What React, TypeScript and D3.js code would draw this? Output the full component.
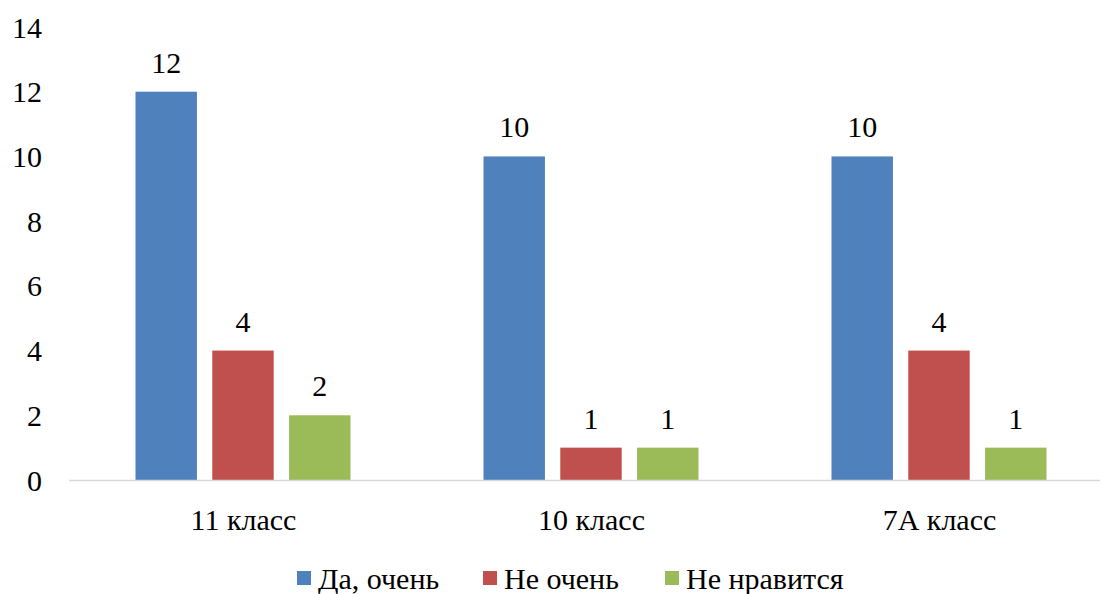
import React from "react";
import * as d3 from "d3";

// chart data
const categories = ["11 класс", "10 класс", "7А класс"];
const seriesNames = ["Да, очень", "Не очень", "Не нравится"];
const seriesColors = ["#4F81BD", "#C0504D", "#9BBB59"];
const daOchen = [12, 10, 10];
const neOchen = [4, 1, 4];
const neNravitsya = [2, 1, 1];
const yTicks = [0, 2, 4, 6, 8, 10, 12, 14];

const width = 1100;
const height = 594;

const App = () => {
  const x = d3.scaleBand().domain(categories).range([69.5, 1113.5]);
  const inner = d3.scaleBand().domain(seriesNames).range([66, 281]).paddingInner(0.2);
  const y = d3.scaleLinear().domain([0, 14]).range([480, 27]);
  const values = [daOchen, neOchen, neNravitsya];
  const legendX = [297, 483, 665];

  return (
    <svg
      width={width}
      height={height}
      fontSize={30}
      style={{ display: "block", position: "absolute", left: 0, top: 0 }}
    >
      {/* y tick labels */}
      {yTicks.map((t) => (
        <text key={t} x={42} y={y(t)} dy="0.35em" textAnchor="end">
          {t}
        </text>
      ))}

      {/* bars + value labels */}
      {seriesNames.map((name, s) => (
        <g key={name}>
          {categories.map((c, i) => {
            const bx = x(c)! + inner(name)!;
            const v = values[s][i];
            return (
              <g key={c}>
                <rect
                  x={bx}
                  y={y(v)}
                  width={inner.bandwidth()}
                  height={y(0) - y(v)}
                  fill={seriesColors[s]}
                />
                <text x={bx + inner.bandwidth() / 2} y={y(v) - 19} textAnchor="middle">
                  {v}
                </text>
              </g>
            );
          })}
        </g>
      ))}

      {/* x axis line */}
      <line x1={69} x2={width} y1={y(0) + 0.5} y2={y(0) + 0.5} stroke="#d9d9d9" strokeWidth={1.5} />

      {/* category labels */}
      {categories.map((c) => (
        <text key={c} x={x(c)! + x.bandwidth() / 2} y={530} textAnchor="middle">
          {c}
        </text>
      ))}

      {/* legend */}
      {seriesNames.map((name, i) => (
        <g key={name}>
          <rect x={legendX[i]} y={571} width={14} height={14} fill={seriesColors[i]} />
          <text x={legendX[i] + 21} y={589}>
            {name}
          </text>
        </g>
      ))}
    </svg>
  );
};

export default App;
